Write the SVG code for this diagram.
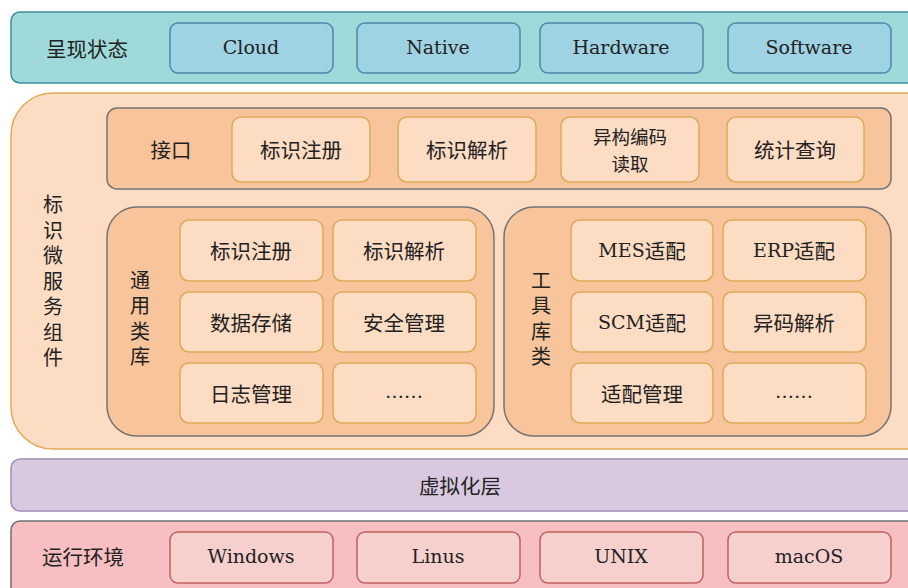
<svg xmlns="http://www.w3.org/2000/svg" width="908" height="588" viewBox="0 0 908 588">
<style>
text{font-family:"DejaVu Serif","Noto Sans CJK SC",serif;font-size:19px;fill:#222;text-anchor:middle;dominant-baseline:central}
.zh{font-family:"Noto Sans CJK SC","DejaVu Serif",sans-serif;font-size:20.5px;font-weight:400}
.zh2{font-family:"Noto Sans CJK SC",sans-serif;font-size:18.5px}
.vt{font-family:"Noto Sans CJK SC",sans-serif;font-size:20px;writing-mode:vertical-rl;letter-spacing:5.5px}
.band1{fill:#a0d9d9;stroke:#3b8f9c;stroke-width:1.5}
.b1{fill:#9fd3e3;stroke:#4c88a8;stroke-width:1.5}
.outer{fill:#fddcc4;stroke:#e0aa55;stroke-width:1.5}
.mid{fill:#f8c49b;stroke:#737373;stroke-width:1.5}
.cell{fill:#fddcc4;stroke:#dfa955;stroke-width:1.5}
.virt{fill:#d9c9e0;stroke:#9f8fb8;stroke-width:1.5}
.run{fill:#f7bfc1;stroke:#707070;stroke-width:1.5}
.rb{fill:#f6d0cd;stroke:#c0625f;stroke-width:1.5}
</style>
<g id="present">
<rect class="band1" x="11" y="12" width="910" height="71" rx="9"/>
<text class="zh" x="87" y="48">呈现状态</text>
<g id="cloud"><rect class="b1" x="170" y="23" width="163" height="50" rx="8"/><text x="251" y="47">Cloud</text></g>
<g id="native"><rect class="b1" x="357" y="23" width="163" height="50" rx="8"/><text x="438" y="47">Native</text></g>
<g id="hardware"><rect class="b1" x="540" y="23" width="163" height="50" rx="8"/><text x="621" y="47">Hardware</text></g>
<g id="software"><rect class="b1" x="728" y="23" width="163" height="50" rx="8"/><text x="809" y="47">Software</text></g>
</g>
<g id="micro">
<rect class="outer" x="11" y="93" width="940" height="356" rx="42"/>
<text class="vt" x="53" y="284">标识微服务组件</text>
</g>
<g id="iface">
<rect class="mid" x="107" y="108" width="784" height="81" rx="10"/>
<text class="zh" x="171" y="149">接口</text>
<g id="i1"><rect class="cell" x="232" y="117" width="138" height="65" rx="9"/><text class="zh" x="301" y="149">标识注册</text></g>
<g id="i2"><rect class="cell" x="398" y="117" width="138" height="65" rx="9"/><text class="zh" x="467" y="149">标识解析</text></g>
<g id="i3"><rect class="cell" x="561" y="117" width="138" height="65" rx="9"/><text class="zh2" x="630" y="136"><tspan x="630" y="136">异构编码</tspan><tspan x="630" y="163">读取</tspan></text></g>
<g id="i4"><rect class="cell" x="727" y="117" width="137" height="65" rx="9"/><text class="zh" x="795" y="149">统计查询</text></g>
</g>
<g id="common">
<rect class="mid" x="107" y="207" width="387" height="229" rx="30"/>
<text class="vt" x="140" y="321">通用类库</text>
<g id="c1"><rect class="cell" x="180" y="220" width="143" height="61" rx="9"/><text class="zh" x="251" y="250">标识注册</text></g>
<g id="c2"><rect class="cell" x="333" y="220" width="143" height="61" rx="9"/><text class="zh" x="404" y="250">标识解析</text></g>
<g id="c3"><rect class="cell" x="180" y="292" width="143" height="60" rx="9"/><text class="zh" x="251" y="322">数据存储</text></g>
<g id="c4"><rect class="cell" x="333" y="292" width="143" height="60" rx="9"/><text class="zh" x="404" y="322">安全管理</text></g>
<g id="c5"><rect class="cell" x="180" y="363" width="143" height="60" rx="9"/><text class="zh" x="251" y="393">日志管理</text></g>
<g id="c6"><rect class="cell" x="333" y="363" width="143" height="60" rx="9"/><text x="404" y="391">……</text></g>
</g>
<g id="tools">
<rect class="mid" x="504" y="207" width="387" height="229" rx="30"/>
<text class="vt" x="541" y="321">工具库类</text>
<g id="t1"><rect class="cell" x="571" y="220" width="142" height="61" rx="9"/><text x="642" y="250">MES<tspan class="zh">适配</tspan></text></g>
<g id="t2"><rect class="cell" x="723" y="220" width="143" height="61" rx="9"/><text x="794" y="250">ERP<tspan class="zh">适配</tspan></text></g>
<g id="t3"><rect class="cell" x="571" y="292" width="142" height="60" rx="9"/><text x="642" y="322">SCM<tspan class="zh">适配</tspan></text></g>
<g id="t4"><rect class="cell" x="723" y="292" width="143" height="60" rx="9"/><text class="zh" x="794" y="322">异码解析</text></g>
<g id="t5"><rect class="cell" x="571" y="363" width="142" height="60" rx="9"/><text class="zh" x="642" y="393">适配管理</text></g>
<g id="t6"><rect class="cell" x="723" y="363" width="143" height="60" rx="9"/><text x="794" y="391">……</text></g>
</g>
<g id="virt">
<rect class="virt" x="11" y="459" width="910" height="52" rx="9"/>
<text class="zh" x="460" y="485">虚拟化层</text>
</g>
<g id="runtime">
<rect class="run" x="11" y="521" width="910" height="80" rx="9"/>
<text class="zh" x="83" y="556">运行环境</text>
<g id="win"><rect class="rb" x="170" y="532" width="163" height="51" rx="8"/><text x="251" y="556">Windows</text></g>
<g id="linus"><rect class="rb" x="357" y="532" width="163" height="51" rx="8"/><text x="438" y="556">Linus</text></g>
<g id="unix"><rect class="rb" x="540" y="532" width="163" height="51" rx="8"/><text x="621" y="556">UNIX</text></g>
<g id="mac"><rect class="rb" x="728" y="532" width="163" height="51" rx="8"/><text x="809" y="556">macOS</text></g>
</g>
<g id="connectors"/>
</svg>
